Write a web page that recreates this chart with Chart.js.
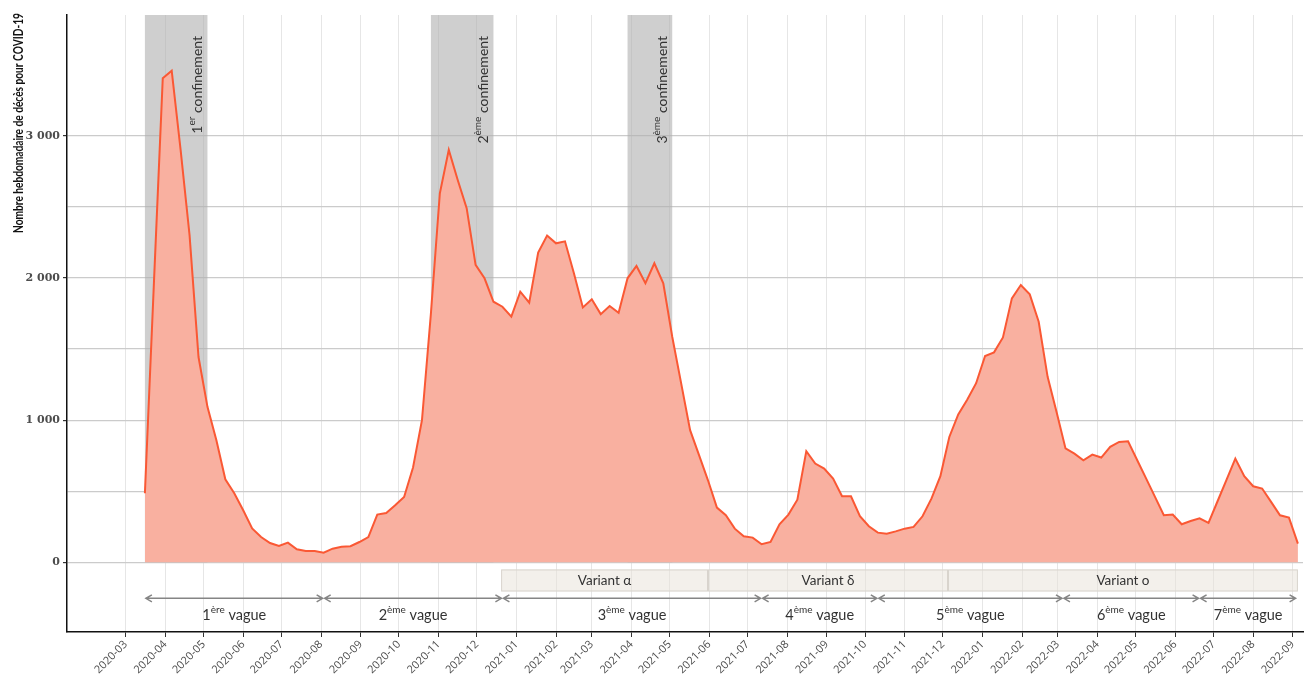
<!DOCTYPE html>
<html>
<head>
<meta charset="utf-8">
<script src="https://cdn.jsdelivr.net/npm/chart.js@4.4.0/dist/chart.umd.min.js"></script>
<style>
  html, body { margin: 0; padding: 0; background: #fff; }
  #wrap { width: 1304px; height: 677px; }
</style>
</head>
<body>
<div id="wrap"><canvas id="chart" width="1304" height="677"></canvas></div>
<script>
// jours depuis l'epoch pour une date 'AAAA-MM-JJ'
const day = s => Date.UTC(+s.slice(0, 4), +s.slice(5, 7) - 1, +s.slice(8, 10)) / 864e5;

// Données hebdomadaires, 1re semaine : 2020-03-16
const firstWeek = '2020-03-16';
const weeklyDeaths = [
  486, 1950, 3406, 3458, 2900, 2300, 1444, 1094, 859, 584,
  486, 366, 239, 178, 136, 115, 139, 92, 80, 80,
  68, 96, 110, 113, 143, 178, 336, 347, 401, 460,
  667, 1000, 1750, 2596, 2901, 2690, 2491, 2092, 1998, 1833,
  1798, 1728, 1904, 1827, 2179, 2299, 2244, 2258, 2033, 1793,
  1850, 1746, 1803, 1756, 1998, 2085, 1963, 2104, 1963, 1587,
  1259, 930, 754, 577, 385, 331, 237, 183, 174, 127,
  143, 268, 336, 441, 782, 695, 660, 589, 465, 465,
  324, 254, 209, 202, 218, 237, 249, 324, 448, 606,
  882, 1040, 1144, 1260, 1451, 1477, 1582, 1857, 1951, 1885,
  1692, 1305, 1058, 801, 765, 718, 758, 737, 812, 847,
  852, 722, 592, 462, 331, 336, 268, 291, 310, 277,
  428, 579, 730, 606, 535, 519, 425, 331, 315, 132
];

// Étiquettes de l'axe des x (un tick par mois)
const monthLabels = [
  '2020-03', '2020-04', '2020-05', '2020-06', '2020-07', '2020-08', '2020-09', '2020-10',
  '2020-11', '2020-12', '2021-01', '2021-02', '2021-03', '2021-04', '2021-05', '2021-06',
  '2021-07', '2021-08', '2021-09', '2021-10', '2021-11', '2021-12', '2022-01', '2022-02',
  '2022-03', '2022-04', '2022-05', '2022-06', '2022-07', '2022-08', '2022-09'
];
const yMajor = [0, 1000, 2000, 3000];
const yGrid = [0, 500, 1000, 1500, 2000, 2500, 3000];

// Confinements
const lockdownStart = ['2020-03-16', '2020-10-26', '2021-03-29'];
const lockdownEnd = ['2020-05-04', '2020-12-14', '2021-05-03'];
const lockdownNum = ['1', '2', '3'];
const lockdownSup = ['er', 'ème', 'ème'];

// Variants
const variantNames = ['Variant α', 'Variant δ', 'Variant o'];
const variantStart = ['2020-12-20', '2021-05-31', '2021-12-05'];
const variantEnd = ['2021-05-31', '2021-12-05', '2022-09-05'];

// Vagues
const waveBounds = ['2020-03-16', '2020-08-03', '2020-12-21', '2021-07-12', '2021-10-11', '2022-03-05', '2022-06-20', '2022-09-04'];
const waveNum = ['1', '2', '3', '4', '5', '6', '7'];
const waveSup = ['ère', 'ème', 'ème', 'ème', 'ème', 'ème', 'ème'];

const points = weeklyDeaths.map((v, i) => ({ x: day(firstWeek) + 7 * i, y: v }));
const monthTicks = monthLabels.map(m => day(m + '-01'));

const TXT = '#333333';
const FONT = 'Lato';

// texte avec exposant : parts = [[texte, exposant?], ...]
function drawRich(ctx, parts, x, y, align, size) {
  const supSize = Math.round(size * 0.68);
  let total = 0;
  parts.forEach(p => {
    ctx.font = (p[1] ? supSize : size) + 'px ' + FONT;
    total += ctx.measureText(p[0]).width;
  });
  let cx = align === 'center' ? x - total / 2 : align === 'right' ? x - total : x;
  ctx.textAlign = 'left';
  ctx.textBaseline = 'middle';
  parts.forEach(p => {
    ctx.font = (p[1] ? supSize : size) + 'px ' + FONT;
    ctx.fillText(p[0], cx, p[1] ? y - size * 0.38 : y);
    cx += ctx.measureText(p[0]).width;
  });
}

function drawArrow(ctx, x1, x2, y) {
  const h = 6, w = 3.5;
  ctx.beginPath();
  ctx.moveTo(x1, y); ctx.lineTo(x2, y);
  ctx.moveTo(x1 + h, y - w); ctx.lineTo(x1, y); ctx.lineTo(x1 + h, y + w);
  ctx.moveTo(x2 - h, y - w); ctx.lineTo(x2, y); ctx.lineTo(x2 - h, y + w);
  ctx.stroke();
}

const bandsPlugin = {
  id: 'bands',
  beforeDatasetsDraw(chart) {
    const { ctx, scales: { x, y } } = chart;
    ctx.save();
    ctx.fillStyle = 'rgba(175,175,175,0.6)';
    const top = chart.chartArea.top, y0 = y.getPixelForValue(0);
    for (let i = 0; i < lockdownStart.length; i++) {
      const a = x.getPixelForValue(day(lockdownStart[i]));
      const b = x.getPixelForValue(day(lockdownEnd[i]));
      ctx.fillRect(a, top, b - a, y0 - top);
    }
    // boîtes des variants
    for (let i = 0; i < variantNames.length; i++) {
      const a = x.getPixelForValue(day(variantStart[i]));
      const b = x.getPixelForValue(day(variantEnd[i]));
      const t = y.getPixelForValue(-50), bt = y.getPixelForValue(-205);
      ctx.fillStyle = 'rgba(232,226,216,0.5)';
      ctx.fillRect(a, t, b - a, bt - t);
      ctx.strokeStyle = '#d8d4cd';
      ctx.lineWidth = 1;
      ctx.strokeRect(a + 0.5, t + 0.5, b - a - 1, bt - t - 1);
    }
    ctx.restore();
  },
  afterDatasetsDraw(chart) {
    const { ctx, scales: { x, y } } = chart;
    ctx.save();
    ctx.fillStyle = TXT;
    // étiquettes des confinements (verticales)
    for (let i = 0; i < lockdownStart.length; i++) {
      const b = x.getPixelForValue(day(lockdownEnd[i]));
      ctx.save();
      ctx.translate(b - 10, 36);
      ctx.rotate(-Math.PI / 2);
      drawRich(ctx, [[lockdownNum[i], false], [lockdownSup[i], true], [' confinement', false]], 0, 0, 'right', 14);
      ctx.restore();
    }
    // variants
    for (let i = 0; i < variantNames.length; i++) {
      const a = x.getPixelForValue(day(variantStart[i]));
      const b = x.getPixelForValue(day(variantEnd[i]));
      ctx.font = '13.5px ' + FONT;
      ctx.textAlign = 'center';
      ctx.textBaseline = 'middle';
      ctx.fillText(variantNames[i], (a + b) / 2, y.getPixelForValue(-128));
    }
    // vagues
    ctx.strokeStyle = '#858585';
    ctx.lineWidth = 1.5;
    const ya = y.getPixelForValue(-253), yl = y.getPixelForValue(-373);
    for (let i = 0; i < waveNum.length; i++) {
      const a = x.getPixelForValue(day(waveBounds[i]));
      const b = x.getPixelForValue(day(waveBounds[i + 1]));
      drawArrow(ctx, a + 1, b - 1, ya);
      drawRich(ctx, [[waveNum[i], false], [waveSup[i], true], [' vague', false]], (a + b) / 2, yl, 'center', 14.5);
    }
    ctx.restore();
  },
  afterDraw(chart) {
    // titre de l'axe y, compressé pour tenir sur ~220 px
    const ctx = chart.ctx;
    const label = 'Nombre hebdomadaire de décès pour COVID-19';
    ctx.save();
    ctx.font = 'bold 12.5px ' + FONT;
    const w = ctx.measureText(label).width;
    ctx.translate(19, 123);
    ctx.rotate(-Math.PI / 2);
    ctx.scale(220 / w, 1);
    ctx.fillStyle = '#111';
    ctx.textAlign = 'center';
    ctx.textBaseline = 'middle';
    ctx.fillText(label, 0, 0);
    ctx.restore();
  }
};

new Chart(document.getElementById('chart'), {
  type: 'line',
  data: {
    datasets: [{
      data: points,
      borderColor: 'rgb(250,88,52)',
      backgroundColor: '#f9b0a0',
      borderWidth: 2,
      pointRadius: 0,
      fill: 'origin',
      tension: 0
    }]
  },
  options: {
    responsive: false,
    animation: false,
    layout: { padding: { top: 15, right: 1, left: 0, bottom: 0 } },
    plugins: { legend: { display: false }, tooltip: { enabled: false } },
    scales: {
      x: {
        type: 'linear',
        min: day('2020-01-15'),
        max: day('2022-09-09'),
        afterBuildTicks: s => { s.ticks = monthTicks.map(v => ({ value: v })); },
        afterFit: s => { s.height = 45; },
        ticks: {
          autoSkip: false,
          maxRotation: 45,
          minRotation: 45,
          padding: 1,
          color: '#4d4d4d',
          font: { family: 'Open Sans', size: 11 },
          callback: (v, i) => monthLabels[i]
        },
        grid: { color: '#e6e6e6', lineWidth: 1, tickLength: 5, tickColor: '#333' },
        border: { display: true, color: '#111', width: 1.5 }
      },
      y: {
        min: -490,
        max: 3850,
        afterBuildTicks: s => { s.ticks = yGrid.map(v => ({ value: v })); },
        afterFit: s => { s.width = 67; },
        ticks: {
          padding: 3,
          color: '#4d4d4d',
          font: { family: 'DejaVu Serif', size: 11, weight: 'bold' },
          callback: v => yMajor.includes(v) ? (v === 0 ? '0' : (v / 1000) + ' 000') : ''
        },
        grid: {
          color: '#cbcbcb',
          lineWidth: 1.2,
          tickLength: 4,
          tickColor: c => (c.tick && yMajor.includes(c.tick.value)) ? '#333' : 'rgba(0,0,0,0)'
        },
        border: { display: true, color: '#111', width: 1.5 }
      }
    }
  },
  plugins: [bandsPlugin]
});
</script>
</body>
</html>
